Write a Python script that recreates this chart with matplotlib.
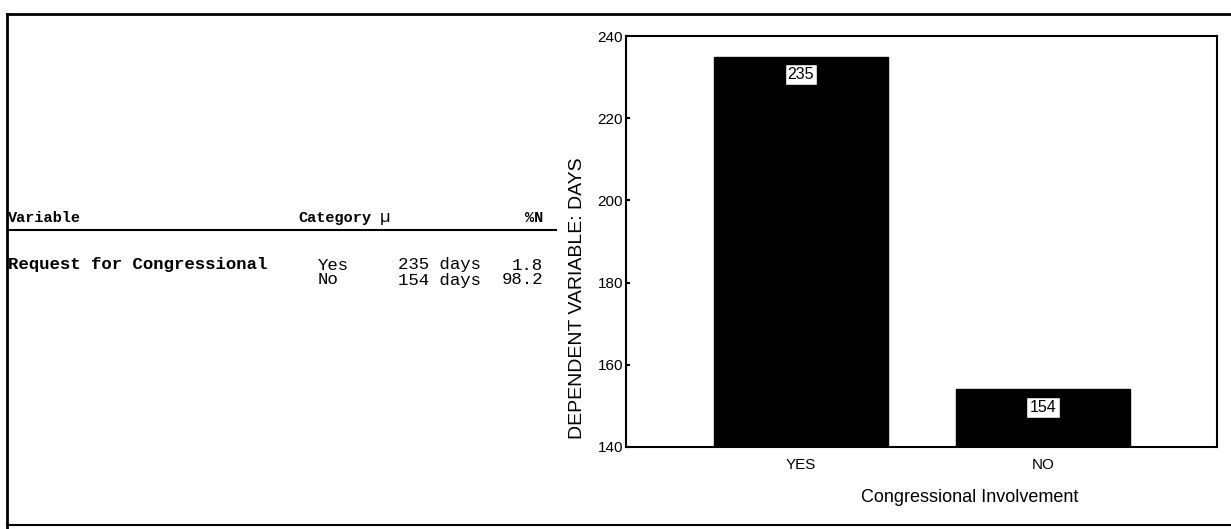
import matplotlib
matplotlib.use("Agg")
import matplotlib.pyplot as plt
from matplotlib.lines import Line2D

# ---- data ----
categories = ["YES", "NO"]
mean_days = [235, 154]
table_header = ["Variable", "Category", "\u00b5", "%N"]
table_variable = "Request for Congressional"
table_categories = ["Yes", "No"]
table_means = ["235 days", "154 days"]
table_pct = ["1.8", "98.2"]
y_ticks = [140, 160, 180, 200, 220, 240]

W, H = 1231, 529
fig = plt.figure(figsize=(W / 100, H / 100), dpi=100)
fig.patch.set_facecolor("white")

def fx(x):
    return x / W

def fy(y):
    return 1 - y / H

# outer frame
fig.add_artist(Line2D([fx(7), fx(7)], [fy(14), fy(529)], color="black", lw=2))
fig.add_artist(Line2D([fx(7), fx(1231)], [fy(14), fy(14)], color="black", lw=2))
fig.add_artist(Line2D([fx(7), fx(1231)], [fy(525), fy(525)], color="black", lw=1.5))

# ---- left table ----
mono = "Liberation Mono"
hfs = 11
fs = 12.5
hy = 218
fig.text(fx(8), fy(hy), table_header[0], family=mono, weight="bold", fontsize=hfs, va="center", ha="left")
fig.text(fx(298), fy(hy), table_header[1], family=mono, weight="bold", fontsize=hfs, va="center", ha="left")
fig.text(fx(380), fy(hy), table_header[2], family=mono, fontsize=fs, va="center", ha="left")
fig.text(fx(543), fy(hy), table_header[3], family=mono, weight="bold", fontsize=hfs, va="center", ha="right")
fig.add_artist(Line2D([fx(8), fx(556)], [fy(230), fy(230)], color="black", lw=1.5))

rows_y = [265, 280]
fig.text(fx(8), fy(rows_y[0]), table_variable, family=mono, weight="bold", fontsize=fs, va="center", ha="left")
for yy, c, m, p in zip(rows_y, table_categories, table_means, table_pct):
    fig.text(fx(318), fy(yy), c, family=mono, fontsize=fs, va="center", ha="left")
    fig.text(fx(398), fy(yy), m, family=mono, fontsize=fs, va="center", ha="left")
    fig.text(fx(543), fy(yy), p, family=mono, fontsize=fs, va="center", ha="right")

# ---- bar chart ----
left, right, top, bottom = 626, 1217, 36, 447
ax = fig.add_axes([fx(left), fy(bottom), (right - left) / W, (bottom - top) / H])
xpos = list(range(len(categories)))
ax.bar(xpos, mean_days, width=0.72, color="black", edgecolor="black")
ax.set_xlim(-0.723, 1.719)
ax.set_ylim(140, 240)
ax.set_yticks(y_ticks)
ax.set_yticklabels([str(t) for t in y_ticks], family="Liberation Sans", fontsize=11)
ax.set_xticks(xpos)
ax.set_xticklabels(categories, family="Liberation Sans", fontsize=11)
ax.tick_params(axis="y", direction="in", length=3, width=1.5, pad=2)
ax.tick_params(axis="x", direction="in", length=3, width=1.5, pad=8)
for s in ax.spines.values():
    s.set_linewidth(1.5)

for i, v in zip(xpos, mean_days):
    ax.annotate(str(v), xy=(i, v), xytext=(0, -13), textcoords="offset points",
                ha="center", va="center", fontsize=11.5, family="Liberation Sans",
                bbox=dict(boxstyle="square,pad=0.2", fc="white", ec="black", lw=1))

ax.set_ylabel("DEPENDENT VARIABLE: DAYS", family="Liberation Sans", fontsize=14)
ax.yaxis.set_label_coords((577 - left) / (right - left), (bottom - 298) / (bottom - top))
ax.yaxis.label.set_va("center")
ax.set_xlabel("Congressional Involvement", family="Liberation Sans", fontsize=13)
ax.xaxis.set_label_coords((970 - left) / (right - left), (bottom - 497) / (bottom - top))
ax.xaxis.label.set_va("center")

fig.savefig("out.png", dpi=100, facecolor="white")
